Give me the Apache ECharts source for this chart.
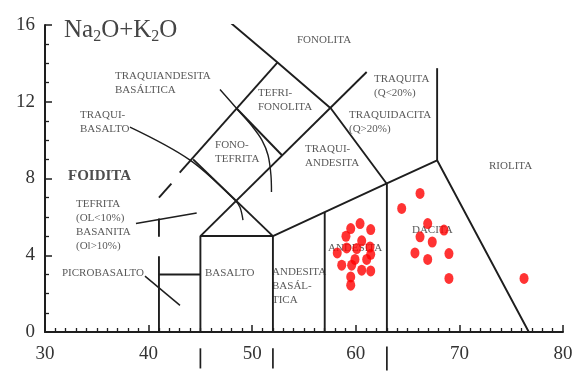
<!DOCTYPE html>
<html>
<head>
<meta charset="utf-8">
<script src="https://cdn.jsdelivr.net/npm/echarts/dist/echarts.min.js"></script>
<style>
  html, body { margin: 0; padding: 0; background: #fff; }
  #chart { width: 581px; height: 372px; }
</style>
</head>
<body>
<div id="chart"></div>
<script>
// TAS classification diagram (SiO2 vs Na2O+K2O), wt%
const xTickLabels = [30, 40, 50, 60, 70, 80];
const yTickLabels = [0, 4, 8, 12, 16];

// analysed samples [SiO2, Na2O+K2O]
const andesiteSamples = [
  [60.41, 5.65], [59.51, 5.39], [61.44, 5.34], [59.05, 4.99], [60.57, 4.75],
  [59.12, 4.38], [60.09, 4.35], [61.37, 4.43], [58.21, 4.12], [61.44, 4.05],
  [59.92, 3.78], [61.05, 3.78], [58.64, 3.48], [59.60, 3.48], [60.57, 3.22],
  [61.44, 3.18], [59.51, 2.87], [59.51, 2.44]
];
const daciteSamples = [
  [66.20, 7.22], [64.43, 6.44], [66.94, 5.65], [68.51, 5.31], [66.20, 4.96],
  [67.38, 4.69], [65.71, 4.12], [66.94, 3.78], [68.99, 4.09], [68.99, 2.79]
];
const rhyoliteSamples = [[76.24, 2.79]];

// field boundaries
const picrobasaltEdge = [[41, 0], [41, 3.95]];
const picrobasaltTop = [[41, 3], [45, 3]];
const foiditeDashA = [[41, 4.96], [41, 5.92]];
const foiditeDashB = [[41, 7], [42.2, 7.73]];
const foiditeEdge = [[43, 8.3], [52.45, 14.05]];
const basaltBox = [[45, 0], [45, 5], [52, 5], [52, 0]];
const trachyteEdge = [[45, 5], [61.05, 13.55]];
const phonoliteEdge = [[47.95, 16.1], [52.45, 14.05], [57.6, 11.65], [62.95, 7.75]];
const tephriteEdge = [[44.3, 9.0], [52, 5]];
const tephriphonoliteEdge = [[48.5, 11.65], [52.9, 9.2]];
const subalkalineTop = [[52, 5], [57, 6.25], [63, 7.75], [67.85, 8.95], [76.7, 0]];
const andesiteLeft = [[57, 0], [57, 6.25]];
const daciteLeft = [[63, 0], [63, 7.75]];
const rhyoliteEdge = [[67.85, 8.95], [67.85, 13.75]];

// leader lines from field names
const trachybasaltLeader = [[38.2, 10.68], [44.0, 8.96], [48.34, 6.87], [48.82, 6.5], [49.11, 5.83]];
const basalticTrachyandesiteLeader = [[46.89, 12.64], [48.5, 11.65], [49.98, 10.73], [50.95, 9.99], [51.53, 9.21], [51.81, 8.17], [51.86, 7.29]];
const tephriteLeader = [[38.78, 5.65], [44.64, 6.2]];
const picrobasaltLeader = [[39.65, 2.91], [43.03, 1.39]];

// short marks under the SiO2 axis
const axisMarks = [
  [[45, -0.85], [45, -1.9]],
  [[52, -0.85], [52, -1.9]],
  [[63, -0.75], [63, -2.0]]
];

// field names, anchored at the left edge of each text block
const fieldNames = [
  ['FONOLITA', 54.32, 15.22],
  ['TRAQUIANDESITA\nBASÁLTICA', 36.76, 12.97],
  ['TRAQUI-\nBASALTO', 33.38, 10.94],
  ['TEFRI-\nFONOLITA', 50.56, 12.09],
  ['FONO-\nTEFRITA', 46.41, 9.35],
  ['TRAQUITA\n(Q<20%)', 61.76, 12.79],
  ['TRAQUIDACITA\n(Q>20%)', 59.34, 10.94],
  ['TRAQUI-\nANDESITA', 55.10, 9.17],
  ['RIOLITA', 72.86, 8.64],
  ['TEFRITA\n(OL<10%)\nBASANITA\n(Ol>10%)', 32.99, 5.59],
  ['PICROBASALTO', 31.64, 3.06],
  ['BASALTO', 45.44, 3.06],
  ['ANDESITA\nBASÁL-\nTICA', 51.91, 2.38],
  ['ANDESITA', 57.32, 4.37],
  ['DACITA', 65.42, 5.31]
];
const foiditeName = ['FOIDITA', 32.22, 8.12];

const SERIF = '"Liberation Serif", "Times New Roman", serif';
const INK = '#1e1e1e';

function edge(points, width, extra) {
  return Object.assign({
    type: 'line',
    data: points,
    symbol: 'none',
    silent: true,
    animation: false,
    lineStyle: { color: INK, width: width }
  }, extra || {});
}

const series = [];
[picrobasaltEdge, picrobasaltTop, foiditeDashA, foiditeDashB, foiditeEdge, basaltBox,
 trachyteEdge, phonoliteEdge, tephriteEdge, tephriphonoliteEdge, subalkalineTop,
 andesiteLeft, daciteLeft, rhyoliteEdge].forEach(p => series.push(edge(p, 1.9)));

series.push(edge(trachybasaltLeader, 1.4, { smooth: 0.35 }));
series.push(edge(basalticTrachyandesiteLeader, 1.4, { smooth: 0.35 }));
series.push(edge(tephriteLeader, 1.5));
series.push(edge(picrobasaltLeader, 1.5));
axisMarks.forEach(m => series.push(edge(m, 1.7, { clip: false })));

series.push({
  type: 'scatter',
  silent: true,
  animation: false,
  symbolSize: 0,
  data: fieldNames.map(f => ({ name: f[0], value: [f[1], f[2]] })),
  label: {
    show: true,
    position: 'inside',
    align: 'left',
    verticalAlign: 'middle',
    formatter: p => p.name,
    fontFamily: SERIF,
    fontSize: 11,
    lineHeight: 14,
    color: '#2e2e2e'
  }
});

series.push({
  type: 'scatter',
  silent: true,
  animation: false,
  symbolSize: 0,
  data: [{ name: foiditeName[0], value: [foiditeName[1], foiditeName[2]] }],
  label: {
    show: true,
    position: 'inside',
    align: 'left',
    verticalAlign: 'middle',
    formatter: p => p.name,
    fontFamily: SERIF,
    fontSize: 15,
    fontWeight: 'bold',
    color: '#222'
  }
});

const dotStyle = {
  type: 'scatter',
  silent: true,
  animation: false,
  symbol: 'circle',
  symbolSize: [9, 11],
  itemStyle: { color: '#ff0000' },
  z: 5
};
series.push(Object.assign({ data: andesiteSamples }, dotStyle));
series.push(Object.assign({ data: daciteSamples }, dotStyle));
series.push(Object.assign({ data: rhyoliteSamples }, dotStyle));

const chart = echarts.init(document.getElementById('chart'), null, { renderer: 'canvas' });
chart.setOption({
  backgroundColor: '#fff',
  animation: false,
  title: {
    text: '{a|Na}{s|2}{a|O+K}{s|2}{a|O}',
    left: 64,
    top: 17,
    padding: 0,
    textStyle: {
      fontWeight: 'normal',
      rich: {
        a: { fontFamily: SERIF, fontSize: 25, fontWeight: 'normal', lineHeight: 27, color: '#444' },
        s: { fontFamily: SERIF, fontSize: 16, fontWeight: 'normal', lineHeight: 15, padding: [12, 0, 0, 0], color: '#444' }
      }
    }
  },
  grid: { left: 45, right: 18, top: 25, bottom: 40, containLabel: false, outerBoundsMode: 'none' },
  xAxis: {
    type: 'value',
    min: 30, max: 80, interval: 10,
    splitLine: { show: false },
    axisLine: { onZero: false, lineStyle: { color: INK, width: 2 } },
    axisTick: { inside: true, length: 7, lineStyle: { color: INK, width: 1.5 } },
    minorTick: { show: true, splitNumber: 10, length: 4, lineStyle: { color: INK, width: 1.3 } },
    axisLabel: {
      margin: 13,
      fontFamily: SERIF, fontSize: 19, color: '#333',
      formatter: v => (xTickLabels.indexOf(v) >= 0 ? String(v) : '')
    }
  },
  yAxis: {
    type: 'value',
    min: 0, max: 16, interval: 4,
    splitLine: { show: false },
    axisLine: { lineStyle: { color: INK, width: 2 } },
    axisTick: { inside: true, length: 7, lineStyle: { color: INK, width: 1.5 } },
    minorTick: { show: true, splitNumber: 4, length: 4, lineStyle: { color: INK, width: 1.3 } },
    axisLabel: {
      margin: 10,
      padding: [0, 0, 10, 0],
      fontFamily: SERIF, fontSize: 19, color: '#333',
      formatter: v => (yTickLabels.indexOf(v) >= 0 ? String(v) : '')
    }
  },
  series: series
});
</script>
</body>
</html>
